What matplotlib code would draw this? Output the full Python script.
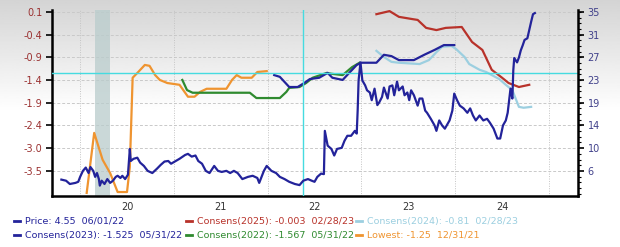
import numpy as np
import matplotlib
matplotlib.use("Agg")
import matplotlib.pyplot as plt
from matplotlib.lines import Line2D
from matplotlib.ticker import AutoMinorLocator

# ---- data (decimal years) ----
price_t = [2019.80, 2019.85, 2019.89, 2019.95, 2019.98, 2020.00, 2020.03, 2020.06, 2020.09, 2020.11,
           2020.14, 2020.16, 2020.18, 2020.20, 2020.21, 2020.23, 2020.26, 2020.29, 2020.32, 2020.35,
           2020.38, 2020.40, 2020.43, 2020.45, 2020.48, 2020.51, 2020.53, 2020.54, 2020.57, 2020.61,
           2020.64, 2020.68, 2020.72, 2020.77, 2020.82, 2020.86, 2020.90, 2020.94, 2020.97, 2021.02,
           2021.06, 2021.12, 2021.15, 2021.19, 2021.23, 2021.26, 2021.30, 2021.34, 2021.38, 2021.43,
           2021.47, 2021.51, 2021.56, 2021.60, 2021.64, 2021.68, 2021.73, 2021.79, 2021.84, 2021.89,
           2021.91, 2021.96, 2021.99, 2022.04, 2022.09, 2022.13, 2022.18, 2022.23, 2022.29, 2022.34,
           2022.38, 2022.43, 2022.47, 2022.50, 2022.53, 2022.57, 2022.60, 2022.61, 2022.64, 2022.68,
           2022.71, 2022.74, 2022.79, 2022.82, 2022.85, 2022.89, 2022.93, 2022.95, 2022.96, 2022.97,
           2022.99, 2023.01, 2023.04, 2023.06, 2023.09, 2023.11, 2023.14, 2023.17, 2023.19, 2023.22,
           2023.24, 2023.28, 2023.30, 2023.33, 2023.35, 2023.38, 2023.40, 2023.44, 2023.46, 2023.49,
           2023.51, 2023.53, 2023.56, 2023.60, 2023.62, 2023.65, 2023.68, 2023.70, 2023.74, 2023.78,
           2023.80, 2023.83, 2023.86, 2023.89, 2023.94, 2023.97, 2023.99, 2024.02, 2024.05, 2024.09,
           2024.13, 2024.16, 2024.19, 2024.22, 2024.26, 2024.30, 2024.34, 2024.37, 2024.41, 2024.45,
           2024.48, 2024.51, 2024.54, 2024.56, 2024.59, 2024.61, 2024.62, 2024.63, 2024.66, 2024.68,
           2024.70, 2024.72, 2024.74, 2024.77, 2024.79, 2024.81, 2024.83, 2024.85]
price_v = [4.4, 4.2, 3.6, 3.8, 4.0, 4.9, 6.0, 6.6, 5.6, 6.7,
           6.0, 4.9, 5.6, 4.5, 3.3, 4.2, 3.6, 4.5, 3.8, 4.2,
           4.9, 5.1, 4.7, 5.1, 4.5, 5.3, 10.0, 7.8, 8.2, 8.4,
           7.5, 6.9, 6.0, 5.6, 6.4, 7.1, 7.7, 7.8, 7.3, 7.8,
           8.2, 8.9, 9.1, 8.6, 8.8, 7.8, 7.3, 6.0, 5.6, 6.9,
           6.0, 5.8, 6.0, 5.6, 6.0, 5.6, 4.5, 4.9, 5.1, 4.7,
           3.8, 6.0, 6.9, 6.0, 5.6, 4.9, 4.5, 4.0, 3.6, 3.4,
           4.2, 4.5, 4.2, 4.0, 4.9, 5.5, 5.4, 13.3, 10.6, 10.0,
           8.8, 10.0, 10.2, 11.5, 12.4, 12.4, 13.3, 12.8, 17.0, 22.5,
           25.8, 22.5, 21.6, 20.7, 20.3, 18.9, 21.0, 18.0, 18.5, 19.5,
           21.2, 19.2, 21.4, 21.6, 19.8, 22.3, 20.7, 21.4, 19.8, 20.3,
           18.9, 20.7, 19.8, 17.9, 19.2, 19.2, 17.0, 16.6, 15.5, 14.3,
           13.3, 15.2, 14.3, 13.7, 15.2, 17.0, 20.1, 18.9, 17.9, 17.4,
           16.6, 17.4, 16.1, 15.2, 16.1, 15.2, 15.5, 14.8, 13.7, 11.9,
           11.9, 14.3, 15.2, 16.6, 21.0, 19.2, 24.4, 26.6, 25.8, 26.7,
           28.0, 28.9, 29.9, 30.2, 31.7, 33.2, 34.6, 34.8]

c2023_t = [2022.07, 2022.13, 2022.23, 2022.32, 2022.39, 2022.45, 2022.55, 2022.64, 2022.69, 2022.80,
           2022.87, 2022.95, 2023.00, 2023.16, 2023.24, 2023.32, 2023.40, 2023.56, 2023.67, 2023.78,
           2023.88, 2023.99]
c2023_v = [-1.33, -1.37, -1.60, -1.60, -1.51, -1.42, -1.39, -1.28, -1.39, -1.44,
           -1.28, -1.10, -1.05, -1.05, -0.87, -0.90, -0.99, -0.99, -0.87, -0.76,
           -0.65, -0.65]

c2022_t = [2021.09, 2021.14, 2021.20, 2021.81, 2021.88, 2022.13, 2022.20, 2022.23, 2022.34, 2022.41,
           2022.48, 2022.63, 2022.68, 2022.80, 2022.90, 2022.98]
c2022_v = [-1.44, -1.67, -1.73, -1.73, -1.85, -1.85, -1.71, -1.62, -1.60, -1.51,
           -1.39, -1.28, -1.30, -1.33, -1.15, -1.05]

c2024_t = [2023.16, 2023.24, 2023.32, 2023.40, 2023.62, 2023.72, 2023.80, 2023.86, 2023.96, 2024.01,
           2024.10, 2024.15, 2024.26, 2024.33, 2024.47, 2024.54, 2024.61, 2024.65, 2024.68, 2024.73,
           2024.81]
c2024_v = [-0.78, -0.92, -1.03, -1.05, -1.08, -0.99, -0.81, -0.69, -0.67, -0.74,
           -0.92, -1.08, -1.21, -1.26, -1.42, -1.55, -1.67, -1.89, -2.05, -2.07,
           -2.05]

c2025_t = [2023.16, 2023.30, 2023.40, 2023.54, 2023.60, 2023.69, 2023.80, 2023.90, 2024.07, 2024.18,
           2024.29, 2024.39, 2024.50, 2024.57, 2024.68, 2024.79]
c2025_v = [0.05, 0.12, -0.01, -0.06, -0.08, -0.26, -0.31, -0.26, -0.24, -0.58,
           -0.76, -1.21, -1.39, -1.51, -1.60, -1.55]

low_t = [2020.07, 2020.15, 2020.24, 2020.32, 2020.40, 2020.50, 2020.53, 2020.56, 2020.62, 2020.69,
         2020.74, 2020.80, 2020.85, 2020.93, 2021.06, 2021.10, 2021.15, 2021.22, 2021.28, 2021.35,
         2021.56, 2021.62, 2021.67, 2021.72, 2021.83, 2021.89, 2021.99]
low_v = [-4.00, -2.64, -3.25, -3.55, -3.98, -3.98, -3.41, -1.39, -1.26, -1.10,
         -1.12, -1.33, -1.44, -1.51, -1.55, -1.67, -1.82, -1.82, -1.71, -1.64,
         -1.64, -1.44, -1.33, -1.39, -1.39, -1.26, -1.24]

left_ticks = [0.1, -0.414, -0.929, -1.443, -1.957, -2.471, -2.986, -3.5]
left_labels = ['0.1', '-0.4', '-0.9', '-1.4', '-1.9', '-2.4', '-3.0', '-3.5']
right_labels = ['35', '31', '27', '23', '19', '14', '10', '6']
year_pos = [2020.5, 2021.5, 2022.5, 2023.5, 2024.5]
year_labels = ['20', '21', '22', '23', '24']

legend_labels = ['Price: 4.55  06/01/22', 'Consens(2025): -0.003  02/28/23', 'Consens(2024): -0.81  02/28/23',
                 'Consens(2023): -1.525  05/31/22', 'Consens(2022): -1.567  05/31/22', 'Lowest: -1.25  12/31/21']

navy = '#23239a'
red = '#b8322a'
lblue = '#9ccfe0'
green = '#2f8a2f'
orange = '#ef9430'
legend_colors = [navy, red, lblue, navy, green, orange]

plt.rcParams['font.family'] = 'DejaVu Sans'
fig = plt.figure(figsize=(6.2, 2.47), dpi=100)

# background gradient
bg = fig.add_axes([0, 0, 1, 1], zorder=-10)
grad = np.linspace(0, 1, 256).reshape(-1, 1)
grad = np.clip(grad * 2.2, 0, 1)
bg.imshow(0.83 + 0.17 * grad, cmap='gray', vmin=0, vmax=1, aspect='auto', extent=[0, 1, 0, 1])
bg.axis('off')

ax = fig.add_axes([52 / 620, 51 / 247, 526 / 620, 186 / 247])
ax.patch.set_alpha(0)
ax.set_xlim(2019.70, 2025.31)
ylo, yhi = -4.07, 0.145
ax.set_ylim(ylo, yhi)

# grid
for t in left_ticks:
    ax.axhline(t, color='#c9c9c9', lw=0.7, ls=(0, (3, 2)), zorder=0)
for yr in range(2020, 2026):
    ax.axvline(yr, color='#c4c4c4', lw=0.7, ls=(0, (1, 1.5)), zorder=0)

ax.axvspan(2020.16, 2020.32, color='#b9cccc', alpha=0.75, lw=0, zorder=1)

ax.plot(low_t, low_v, color=orange, lw=1.6, zorder=3)
ax.plot(c2022_t, c2022_v, color=green, lw=1.6, zorder=3)
ax.plot(c2023_t, c2023_v, color=navy, lw=1.6, zorder=4)
ax.plot(c2024_t, c2024_v, color=lblue, lw=1.6, zorder=3)
ax.plot(c2025_t, c2025_v, color=red, lw=1.6, zorder=3)

ax.set_yticks(left_ticks)
ax.set_yticklabels(left_labels)
ax.tick_params(axis='y', colors='black', labelcolor='#9a3030', labelsize=7, length=4, width=1.2, pad=3)
ax.set_xticks(year_pos)
ax.set_xticklabels(year_labels)
ax.tick_params(axis='x', length=0, labelsize=7, labelcolor='#333333', pad=4)
for s in ['left', 'bottom']:
    ax.spines[s].set_linewidth(1.8)
ax.spines['top'].set_visible(False)
ax.spines['right'].set_visible(False)

ax2 = ax.twinx()
k = 29 / 3.6
ax2.set_ylim(6 + (ylo + 3.5) * k, 6 + (yhi + 3.5) * k)
ax2.plot(price_t, price_v, color=navy, lw=1.6, zorder=5)
ax2.set_yticks([6 + (t + 3.5) * k for t in left_ticks])
ax2.set_yticklabels(right_labels)
ax2.yaxis.set_minor_locator(AutoMinorLocator(4))
ax2.tick_params(axis='y', which='major', labelcolor='#40408a', labelsize=7, length=4, width=1.2, pad=3)
ax2.tick_params(axis='y', which='minor', length=2.5, width=0.8)
ax2.spines['right'].set_linewidth(1.8)
ax2.spines['top'].set_visible(False)
ax2.spines['left'].set_visible(False)
ax2.spines['bottom'].set_visible(False)

# crosshair
ax.axhline(-1.28, color='#45dbe0', lw=1.0, zorder=6)
ax.axvline(2022.38, color='#45dbe0', lw=1.0, zorder=6)

# legend drawn by hand: 3 columns x 2 rows
col_x = [14, 186, 356]
row_y = [221, 235]
for i, (lab, c) in enumerate(zip(legend_labels, legend_colors)):
    r = i // 3
    cx = col_x[i % 3]
    yy = 1 - row_y[r] / 247
    fig.add_artist(Line2D([cx / 620, (cx + 6) / 620], [yy, yy], color=c, lw=2, transform=fig.transFigure))
    fig.text((cx + 11) / 620, yy, lab, color=c, fontsize=6.8, va='center', ha='left')

fig.savefig('out.png', dpi=100)
